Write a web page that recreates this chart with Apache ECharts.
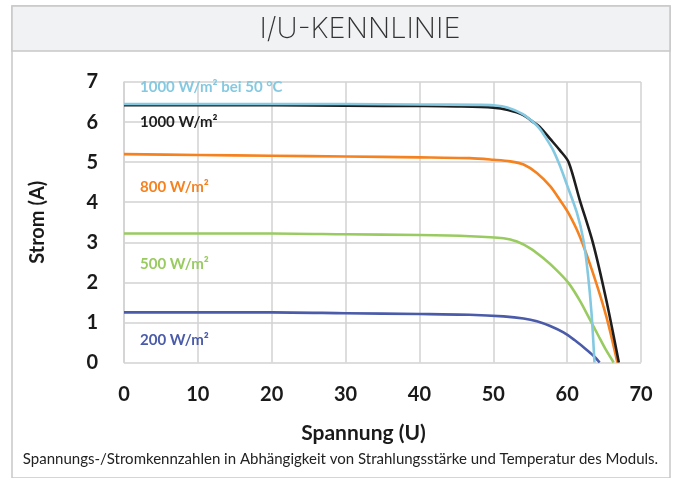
<!DOCTYPE html>
<html>
<head>
<meta charset="utf-8">
<script src="https://cdn.jsdelivr.net/npm/echarts@6/dist/echarts.min.js"></script>
<style>
html,body{margin:0;padding:0;background:#fff;}
#chart{width:681px;height:478px;}
</style>
</head>
<body>
<div id="chart"></div>
<script>
// Data
const xTicks = [0, 10, 20, 30, 40, 50, 60, 70];
const yTicks = [0, 1, 2, 3, 4, 5, 6, 7];

const names = ['1000 W/m² bei 50 °C', '1000 W/m²', '800 W/m²', '500 W/m²', '200 W/m²'];

const u1000hot = [0, 10, 20, 30, 40, 48, 50, 52, 54, 55.4, 56.3, 57.2, 58.1, 59.0, 60.0, 61.3, 62.2, 62.8, 63.3, 63.7];
const i1000hot = [6.45, 6.45, 6.45, 6.45, 6.44, 6.43, 6.42, 6.36, 6.2, 6.0, 5.83, 5.58, 5.3, 4.92, 4.42, 3.75, 3.06, 2.23, 1.23, 0];

const u1000 = [0, 10, 20, 30, 40, 45, 50, 52, 54, 55.4, 56.3, 57.7, 59.0, 60.2, 61.7, 63.5, 65.3, 67.0];
const i1000 = [6.42, 6.42, 6.42, 6.41, 6.4, 6.39, 6.36, 6.3, 6.18, 6.0, 5.88, 5.58, 5.3, 5.0, 4.06, 2.98, 1.56, 0];

const u800 = [0, 10, 20, 30, 40, 46.8, 50, 52.3, 54.1, 55.9, 57.7, 59.0, 60.2, 61.7, 63.5, 65.3, 66.8];
const i800 = [5.2, 5.18, 5.16, 5.14, 5.12, 5.1, 5.06, 5.02, 4.94, 4.73, 4.4, 4.06, 3.72, 3.15, 2.23, 1.15, 0];

const u500 = [0, 10, 20, 30, 40, 46.8, 51.4, 53.2, 55.0, 56.8, 58.6, 60.2, 61.7, 63.0, 64.2, 65.3, 66.3];
const i500 = [3.22, 3.22, 3.22, 3.2, 3.18, 3.15, 3.1, 3.02, 2.85, 2.6, 2.3, 1.98, 1.55, 1.1, 0.68, 0.3, 0];

const u200 = [0, 10, 20, 30, 40, 46.8, 51.4, 54.1, 55.9, 57.7, 59.5, 61.0, 62.3, 63.5, 64.4];
const i200 = [1.25, 1.25, 1.25, 1.23, 1.21, 1.19, 1.15, 1.1, 1.03, 0.91, 0.75, 0.56, 0.37, 0.18, 0];

const seriesU = [u1000hot, u1000, u800, u500, u200];
const seriesI = [i1000hot, i1000, i800, i500, i200];
const colors = ['#84c9e1', '#1e1e1e', '#f5821f', '#99cb60', '#4a5ba9'];
const labelY = [90, 125, 190, 267, 343];

const chart = echarts.init(document.getElementById('chart'));
const font = 'Lato, "Open Sans", sans-serif';

const series = names.map((n, k) => ({
  name: n,
  type: 'line',
  data: seriesU[k].map((u, j) => [u, seriesI[k][j]]),
  showSymbol: false,
  smooth: 0.3,
  lineStyle: { color: colors[k], width: 2.6 },
  itemStyle: { color: colors[k] },
  z: 10 - k
}));

const graphics = [
  { type: 'rect', shape: { x: 12, y: 6, width: 658, height: 472 }, style: { fill: '#fff', stroke: '#c8c8c8', lineWidth: 1.5 }, z: -10 },
  { type: 'rect', shape: { x: 12, y: 6, width: 658, height: 45 }, style: { fill: '#f1f2f4', stroke: '#c8c8c8', lineWidth: 1.5 }, z: -9 },
  { type: 'text', x: 360, y: 29, style: { text: 'I/U-KENNLINIE', font: '200 29px Inter, "Open Sans", sans-serif', fill: '#333', align: 'center', verticalAlign: 'middle' } },
  { type: 'text', left: 'center', top: 452, style: { text: 'Spannungs-/Stromkennzahlen in Abhängigkeit von Strahlungsstärke und Temperatur des Moduls.', font: '15px Lato, "Open Sans", sans-serif', fill: '#222' } }
];
names.forEach((n, k) => {
  graphics.push({ type: 'text', left: 140, top: labelY[k] - 10, style: { text: n, font: 'bold 15px ' + font, fill: colors[k] }, z: 20 });
});

chart.setOption({
  animation: false,
  backgroundColor: '#fff',
  grid: { left: 124, right: 40, top: 82, bottom: 115.5, containLabel: false },
  xAxis: {
    type: 'value', min: 0, max: 70, interval: 10,
    name: 'Spannung (U)', nameLocation: 'middle', nameGap: 60,
    nameTextStyle: { fontFamily: font, fontWeight: 'bold', fontSize: 21, color: '#1a1a1a', padding: [0, 38, 0, 0] },
    axisLine: { show: false }, axisTick: { show: false },
    axisLabel: { fontFamily: font, fontWeight: 'bold', fontSize: 20, color: '#1a1a1a', margin: 22 },
    splitLine: { show: true, lineStyle: { color: '#d2d2d2', width: 1.5 } }
  },
  yAxis: {
    type: 'value', min: 0, max: 7, interval: 1,
    name: 'Strom (A)', nameLocation: 'middle', nameGap: 76, nameRotate: 90,
    nameTextStyle: { fontFamily: font, fontWeight: 'bold', fontSize: 20, color: '#1a1a1a' },
    axisLine: { show: true, lineStyle: { color: '#d2d2d2', width: 1.5 } }, axisTick: { show: false },
    axisLabel: { fontFamily: font, fontWeight: 'bold', fontSize: 20, color: '#1a1a1a', margin: 26 },
    splitLine: { show: true, lineStyle: { color: '#d2d2d2', width: 1.5 } }
  },
  graphic: graphics,
  series: series
});
</script>
</body>
</html>
